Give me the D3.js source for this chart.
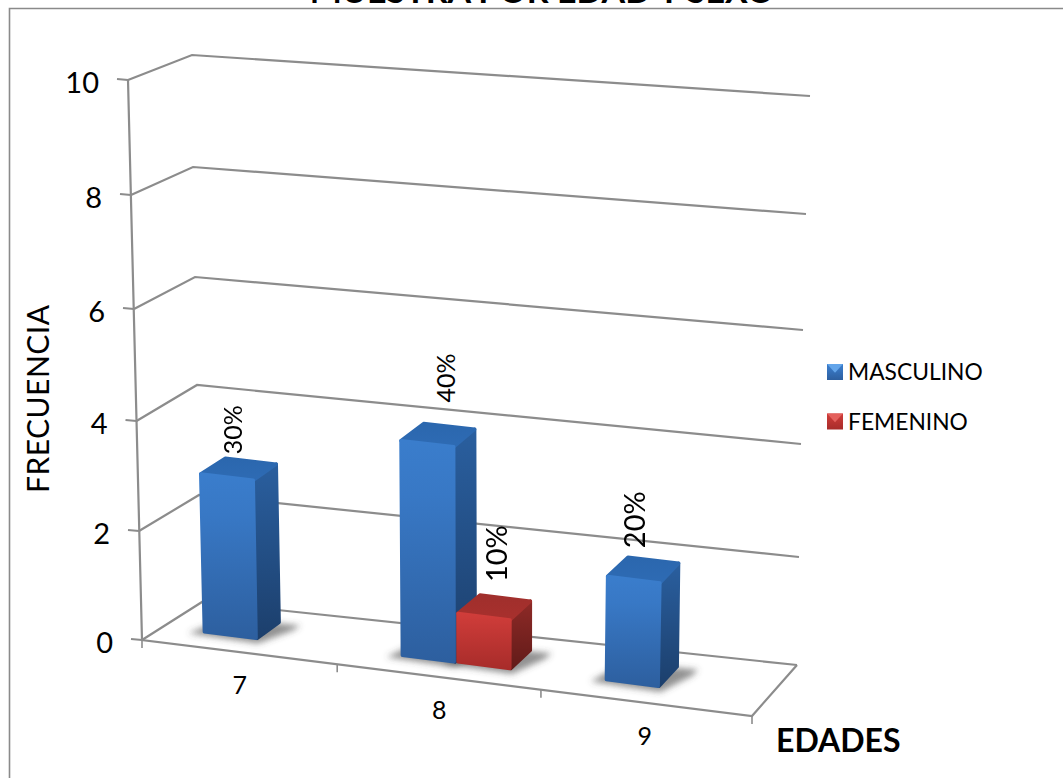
<!DOCTYPE html>
<html>
<head>
<meta charset="utf-8">
<style>
  html, body { margin: 0; padding: 0; background: #fff; }
  svg { display: block; }
  text { font-family: Lato, "Open Sans", sans-serif; fill: #000; }
</style>
<script src="https://cdnjs.cloudflare.com/ajax/libs/d3/7.8.5/d3.min.js"></script>
</head>
<body>
<svg id="chart" width="1063" height="778"></svg>
<script>
// Sample by age and sex
const titleText = "MUESTRA POR EDAD Y SEXO";
const yAxisTitle = "FRECUENCIA";
const xAxisTitle = "EDADES";
const categories = ["7", "8", "9"];
const seriesNames = ["MASCULINO", "FEMENINO"];
const masculino = [3, 4, 2];
const femenino = [0, 1, 0];
const masculinoLabels = ["30%", "40%", "20%"];
const femeninoLabels = ["", "10%", ""];
const yTicks = [0, 2, 4, 6, 8, 10];

const svg = d3.select("#chart");
const defs = svg.append("defs");

// The plot box is a perspective view: each vertical edge gets its own pair of value scales.
const edge = (xs, ys) => ({
  x: d3.scaleLinear().domain(yTicks).range(xs),
  y: d3.scaleLinear().domain(yTicks).range(ys)
});
const frontLeft  = edge([142, 139, 136.5, 134, 131, 128], [640, 531, 421, 309, 195, 80]);
const backLeft   = edge([202, 199, 197, 195, 193, 192],   [602, 495, 385, 277, 167, 55]);
const backRight  = edge([797, 799, 801, 803, 806, 810],   [665, 557, 444, 330, 214, 96]);
const frontRight = edge([752, 755, 757, 760, 762, 765],   [716, 606, 491, 374, 256, 136]);

// u runs along the categories, w from the front of the floor to the back wall, v is the value.
function project(u, w, v) {
  const mix = (k) => {
    const front = frontLeft[k](v) * (1 - u) + frontRight[k](v) * u;
    const back = backLeft[k](v) * (1 - u) + backRight[k](v) * u;
    return front * (1 - w) + back * w;
  };
  return [mix("x"), mix("y")];
}

// Perspective squeezes the category centres slightly unevenly along the floor
const catCenter = d3.scaleOrdinal().domain(categories).range([0.162, 0.489, 0.826]);
const slotScale = d3.scaleBand().domain(seriesNames).range([-0.092, 0.092]);
const barFront = 0.3, barBack = 0.7;

const gridColor = "#8c8c8c";
const line = d3.line();

function gradient(id, stops, x2 = 0, y2 = 1) {
  const g = defs.append("linearGradient").attr("id", id)
    .attr("x1", 0).attr("y1", 0).attr("x2", x2).attr("y2", y2);
  stops.forEach(([o, c]) => g.append("stop").attr("offset", o).attr("stop-color", c));
}
gradient("m-front", [[0, "#3a7dcc"], [0.25, "#3878c5"], [1, "#2d5f9f"]]);
gradient("m-side",  [[0, "#2a5f9f"], [1, "#1c3f6c"]]);
gradient("m-top",   [[0, "#2b67ae"], [1, "#2e6bb4"]]);
gradient("f-front", [[0, "#d03d3a"], [1, "#a82c2a"]]);
gradient("f-side",  [[0, "#8e2a27"], [1, "#621b19"]]);
gradient("f-top",   [[0, "#a02f2c"], [1, "#a8302d"]]);
defs.append("filter").attr("id", "floor-shadow")
  .attr("x", "-30%").attr("y", "-60%").attr("width", "160%").attr("height", "220%")
  .append("feGaussianBlur").attr("stdDeviation", 3);

// Outer frame: only its top and left edges fall on the page
svg.append("path")
  .attr("d", line([[9.5, 778], [9.5, 8.5], [1063, 8.5]]))
  .attr("fill", "none").attr("stroke", "#8a8a8a").attr("stroke-width", 1.6);

svg.append("text").attr("x", 542).attr("y", 3)
  .attr("text-anchor", "middle").attr("font-size", 34).attr("font-weight", 700)
  .text(titleText);

// Walls, floor and value axis
const walls = svg.append("g").attr("fill", "none")
  .attr("stroke", gridColor).attr("stroke-width", 2.2);

yTicks.forEach((t) => {
  walls.append("path").attr("d", line([project(0, 0, t), project(0, 1, t), project(1, 1, t)]));
  const p = project(0, 0, t);
  walls.append("path").attr("d", line([[p[0] - 11, p[1] - 1], p]));
  svg.append("text").attr("x", p[0] - 29).attr("y", p[1] + 1)
    .attr("text-anchor", "end").attr("dominant-baseline", "central")
    .attr("font-size", 29).text(t);
});
walls.append("path").attr("d", line([project(0, 0, 10), project(0, 0, 0), project(1, 0, 0), project(1, 1, 0)]));

// Category separators below the front floor edge
[0, 0.32, 0.654, 1].forEach((u) => {
  const p = project(u, 0, 0);
  walls.append("path").attr("stroke-width", 1.6).attr("d", line([p, [p[0], p[1] + 8]]));
});

categories.forEach((c) => {
  const p = project(catCenter(c), 0, 0);
  svg.append("text").attr("x", p[0] - 1).attr("y", p[1] + 42)
    .attr("text-anchor", "middle").attr("font-size", 25).text(c);
});

// One box per non-empty value, back-to-front, left-to-right
const bars = [];
categories.forEach((c, i) => {
  [[seriesNames[0], masculino[i], masculinoLabels[i], "m"],
   [seriesNames[1], femenino[i], femeninoLabels[i], "f"]].forEach(([name, value, label, key]) => {
    if (value > 0) bars.push({ c, name, value, label, key });
  });
});

const shadows = svg.append("g").attr("filter", "url(#floor-shadow)");
const boxes = svg.append("g");

bars.forEach((b) => {
  const u0 = catCenter(b.c) + slotScale(b.name);
  const u1 = u0 + slotScale.bandwidth();
  b.u0 = u0;

  shadows.append("path")
    .attr("d", line([project(u0 - 0.02, barFront - 0.03, 0), project(u1 + 0.006, barFront - 0.07, 0),
                     project(u1 + 0.03, barBack - 0.1, 0), project(u1 + 0.03, barBack + 0.02, 0),
                     project(u0, barBack, 0)]) + "Z")
    .attr("fill", "#4a4a4a").attr("opacity", 0.6);

  const face = (pts, id) => boxes.append("path")
    .attr("d", line(pts) + "Z")
    .attr("fill", `url(#${b.key}-${id})`)
    .attr("stroke", `url(#${b.key}-${id})`)
    .attr("stroke-width", 3.5).attr("stroke-linejoin", "round");

  const v = b.value;
  const inset = (p, dx, dy) => [p[0] + dx, p[1] + dy];
  face([inset(project(u1, barFront, v), -1, 3), inset(project(u1, barBack, v), -2, 3),
        inset(project(u1, barBack, 0), -2, -2), inset(project(u1, barFront, 0), -1, -2)], "side");
  face([inset(project(u0, barFront, v), 2, 4), inset(project(u0, barBack, v), 3, 3),
        inset(project(u1, barBack, v), -2, 3), inset(project(u1, barFront, v), -2, 4)], "top");
  face([inset(project(u0, barFront, v), 2, 4), inset(project(u1, barFront, v), -2, 4),
        inset(project(u1, barFront, 0), -2, -2), inset(project(u0, barFront, 0), 2, -2)], "front");
});

// Rotated percentage labels, placed above each box
const labelOffsets = { "30%": [10, -1, 25], "40%": [24, -18, 25], "10%": [19, -10, 29], "20%": [9, -6, 29] };
bars.forEach((b) => {
  const p = project(b.u0, barBack, b.value);
  const [dx, dy, size] = labelOffsets[b.label];
  svg.append("text")
    .attr("transform", `translate(${p[0] + dx},${p[1] + dy}) rotate(-90)`)
    .attr("dominant-baseline", "central").attr("font-size", size)
    .text(b.label);
});

// Axis titles
svg.append("text").attr("transform", "translate(37,399) rotate(-90)")
  .attr("text-anchor", "middle").attr("dominant-baseline", "central")
  .attr("font-size", 30).attr("textLength", 188).text(yAxisTitle);
svg.append("text").attr("x", 776).attr("y", 752)
  .attr("font-size", 32).attr("font-weight", 700).text(xAxisTitle);

// Legend
const legend = svg.append("g");
seriesNames.forEach((name, i) => {
  const key = i === 0 ? "m" : "f";
  const y = 364 + i * 49.5;
  const sq = d3.scaleLinear().domain([0, 1]).range([0, 16]);
  legend.append("rect").attr("x", 827).attr("y", y)
    .attr("width", sq(1)).attr("height", sq(1)).attr("fill", `url(#${key}-front)`);
  legend.append("path")
    .attr("d", line([[827, y], [827 + sq(1), y], [827 + sq(0.5), y + sq(0.55)]]) + "Z")
    .attr("fill", i === 0 ? "#63a5ea" : "#e4605c");
  legend.append("text").attr("x", 848).attr("y", y + 7)
    .attr("dominant-baseline", "central").attr("font-size", 22.8).text(name);
});
</script>
</body>
</html>
